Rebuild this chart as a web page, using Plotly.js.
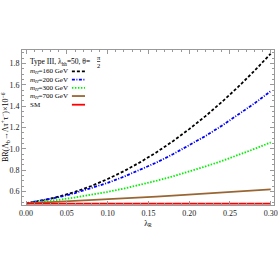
<!DOCTYPE html>
<html>
<head>
<meta charset="utf-8">
<script src="https://cdn.plot.ly/plotly-3.0.1.min.js"></script>
<style>html,body{margin:0;padding:0;background:#fff;}#chart{width:278px;height:278px;}</style>
</head>
<body>
<div id="chart"></div>
<script>
// λ_R values
const lambdaR = [0.00, 0.02, 0.04, 0.06, 0.08, 0.10, 0.12, 0.14, 0.16, 0.18, 0.20, 0.22, 0.24, 0.26, 0.28, 0.30];
// BR × 10^6 for each charged Higgs mass
const br160 = [0.490, 0.516, 0.552, 0.597, 0.652, 0.717, 0.791, 0.875, 0.968, 1.071, 1.184, 1.306, 1.438, 1.579, 1.730, 1.891];
const br200 = [0.490, 0.516, 0.547, 0.586, 0.630, 0.681, 0.739, 0.802, 0.872, 0.949, 1.031, 1.120, 1.216, 1.317, 1.425, 1.540];
const br300 = [0.490, 0.505, 0.523, 0.544, 0.569, 0.597, 0.628, 0.663, 0.701, 0.742, 0.787, 0.835, 0.886, 0.941, 0.999, 1.060];
const br700 = [0.490, 0.497, 0.504, 0.512, 0.520, 0.528, 0.536, 0.545, 0.553, 0.562, 0.571, 0.580, 0.590, 0.600, 0.610, 0.620];
const brSM  = [0.487, 0.487, 0.487, 0.487, 0.487, 0.487, 0.487, 0.487, 0.487, 0.487, 0.487, 0.487, 0.487, 0.487, 0.487, 0.487];

const seriesNames = ['<i>m</i><sub><i>H</i></sub>=160 GeV', '<i>m</i><sub><i>H</i></sub>=200 GeV', '<i>m</i><sub><i>H</i></sub>=300 GeV', '<i>m</i><sub><i>H</i></sub>=700 GeV', 'SM'];
const seriesData = [br160, br200, br300, br700, brSM];
const seriesColors = ['#000000', '#0000ff', '#00ee00', '#996633', '#ff0000'];
const seriesDash = ['3px,2px', '3px,1.5px,1px,1.5px', '1.5px,1.5px', 'solid', 'solid'];
const legendTitle = 'Type III, λ<sub>hh</sub>=50, θ=';

const FONT = 'Liberation Serif, Times New Roman, serif';

const traces = seriesData.map((ys, i) => ({
  x: lambdaR, y: ys, type: 'scatter', mode: 'lines', name: seriesNames[i],
  line: {color: seriesColors[i], width: 1.8, dash: seriesDash[i]},
  showlegend: false
}));

// legend drawn as annotations + key lines (paper coordinates)
const legX0 = 0.022, keyX0 = 0.198, keyX1 = 0.25;
const legYs = [0.862, 0.809, 0.756, 0.703, 0.647];
const annotations = [
  {xref: 'paper', yref: 'paper', x: legX0, y: 0.925, xanchor: 'left', yanchor: 'middle', showarrow: false,
   text: legendTitle, font: {family: FONT, size: 7.5, color: '#000'}},
  {xref: 'paper', yref: 'paper', x: 0.29, y: 0.925, xanchor: 'left', yanchor: 'middle', showarrow: false,
   text: '<u>π</u><br>2', font: {family: FONT, size: 6.5, color: '#000'}},
  {xref: 'paper', yref: 'paper', x: -0.065, y: 0.5, xanchor: 'center', yanchor: 'middle', showarrow: false, textangle: -90,
   text: 'BR(Λ<sub>b</sub>→Λτ<sup>+</sup>τ<sup>−</sup>)×10<sup>−6</sup>', font: {family: FONT, size: 8, color: '#000'}}
];
const shapes = [];
seriesNames.forEach((n, i) => {
  annotations.push({xref: 'paper', yref: 'paper', x: legX0, y: legYs[i], xanchor: 'left', yanchor: 'middle', showarrow: false,
    text: n, font: {family: FONT, size: 7, color: '#000'}});
  shapes.push({type: 'line', xref: 'paper', yref: 'paper', x0: keyX0, x1: keyX1, y0: legYs[i], y1: legYs[i],
    line: {color: seriesColors[i], width: 1.8, dash: seriesDash[i]}});
});

const axisCommon = {
  showline: true, linecolor: '#999', linewidth: 1, mirror: 'ticks',
  ticks: 'inside', ticklen: 4, tickcolor: '#999', tickwidth: 1,
  showgrid: false, zeroline: false,
  tickfont: {family: FONT, size: 8, color: '#222'}
};

const layout = {
  width: 278, height: 278,
  margin: {l: 22, r: 4, t: 50, b: 73},
  paper_bgcolor: '#fff', plot_bgcolor: '#fff',
  showlegend: false,
  xaxis: Object.assign({}, axisCommon, {
    range: [-0.005, 0.304], tickvals: [0, 0.05, 0.10, 0.15, 0.20, 0.25, 0.30],
    ticktext: ['0.00', '0.05', '0.10', '0.15', '0.20', '0.25', '0.30'],
    minor: {dtick: 0.01, tick0: 0, ticks: 'inside', ticklen: 2, tickcolor: '#999'},
    title: {text: 'λ<sub>R</sub>', font: {family: FONT, size: 8, color: '#000'}, standoff: 3}
  }),
  yaxis: Object.assign({}, axisCommon, {
    range: [0.474, 1.925], tickvals: [0.6, 0.8, 1.0, 1.2, 1.4, 1.6, 1.8],
    ticktext: ['0.6', '0.8', '1.0', '1.2', '1.4', '1.6', '1.8'],
    minor: {dtick: 0.05, tick0: 0, ticks: 'inside', ticklen: 2, tickcolor: '#999'}
  }),
  annotations: annotations,
  shapes: shapes
};

Plotly.newPlot('chart', traces, layout, {displayModeBar: false, staticPlot: true});
</script>
</body>
</html>
